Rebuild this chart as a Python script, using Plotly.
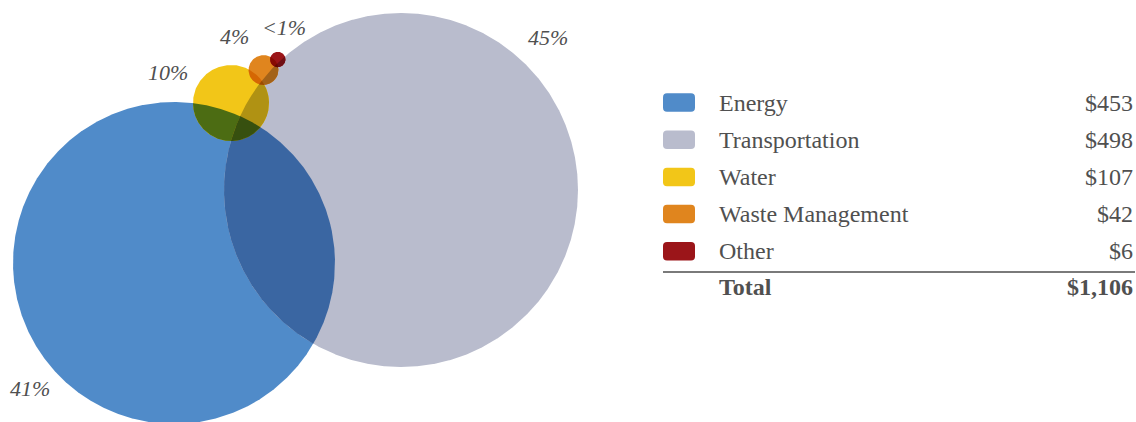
import math
from itertools import combinations
import plotly.graph_objects as go

categories = ["Energy", "Transportation", "Water", "Waste Management", "Other"]
values = [453, 498, 107, 42, 6]
value_labels = ["$453", "$498", "$107", "$42", "$6"]
pct_labels = ["41%", "45%", "10%", "4%", "<1%"]
total_label = "$1,106"
colors = ["#508BC9", "#B9BCCD", "#F2C618", "#E0851E", "#9B1519"]

# layout (pixel-like coordinates)
centers = [(174, 263), (401, 190), (231, 103), (263.5, 70), (277.8, 59.5)]
label_pos = [(30, 388), (548, 37), (168, 72), (234, 36), (284, 27)]
scale = 161.0 / 453
min_r = 7.7

W, H = 1136, 422
radii = [max(v * scale, min_r) for v in values]


def hex2rgb(h):
    h = h.lstrip("#")
    return [int(h[i:i + 2], 16) for i in (0, 2, 4)]


def multiply(idx):
    c = [255.0, 255.0, 255.0]
    for i in idx:
        rgb = hex2rgb(colors[i])
        c = [a * b / 255.0 for a, b in zip(c, rgb)]
    return "rgb(%d,%d,%d)" % tuple(round(v) for v in c)


def depth(px, py, idx):
    return min(radii[i] - math.hypot(px - centers[i][0], py - centers[i][1]) for i in idx)


def region(idx, n=2400):
    # find an interior point of the intersection of circles idx
    k = min(idx, key=lambda i: radii[i])
    cx, cy = centers[k]
    r = radii[k]
    best, bp = -1e9, None
    steps = 60
    for a in range(steps + 1):
        for b in range(steps + 1):
            px = cx - r + 2 * r * a / steps
            py = cy - r + 2 * r * b / steps
            d = depth(px, py, idx)
            if d > best:
                best, bp = d, (px, py)
    if best <= 0.3:
        return None
    px, py = bp
    xs, ys = [], []
    for j in range(n + 1):
        th = 2 * math.pi * j / n
        dx, dy = math.cos(th), math.sin(th)
        tmin = 1e9
        for i in idx:
            ox, oy = px - centers[i][0], py - centers[i][1]
            bb = ox * dx + oy * dy
            cc = ox * ox + oy * oy - radii[i] ** 2
            t = -bb + math.sqrt(bb * bb - cc)
            tmin = min(tmin, t)
        xs.append(px + tmin * dx)
        ys.append(py + tmin * dy)
    return xs, ys


fig = go.Figure()


def add_poly(xs, ys, col):
    fig.add_trace(go.Scatter(x=xs, y=ys, mode="lines", fill="toself", fillcolor=col,
                             line=dict(width=0, color=col), hoverinfo="skip", showlegend=False))


# base circles
for i in range(len(values)):
    cx, cy = centers[i]
    n = 1440
    xs = [cx + radii[i] * math.cos(2 * math.pi * j / n) for j in range(n + 1)]
    ys = [cy + radii[i] * math.sin(2 * math.pi * j / n) for j in range(n + 1)]
    add_poly(xs, ys, colors[i])

# overlaps, multiply-blended
for size in range(2, len(values) + 1):
    for idx in combinations(range(len(values)), size):
        reg = region(idx)
        if reg:
            add_poly(reg[0], reg[1], multiply(idx))

shapes = []
annotations = []
serif = "Liberation Serif, Times New Roman, serif"
txt = "#505050"
for (lx, ly), t in zip(label_pos, pct_labels):
    annotations.append(dict(x=lx, y=ly, xref="x", yref="y", text="<i>%s</i>" % t, showarrow=False,
                            font=dict(family=serif, size=22, color=txt), xanchor="center", yanchor="middle"))


def rounded(x0, y0, x1, y1, rr):
    return (f"M {x0+rr},{y0} L {x1-rr},{y0} Q {x1},{y0} {x1},{y0+rr} L {x1},{y1-rr} Q {x1},{y1} {x1-rr},{y1} "
            f"L {x0+rr},{y1} Q {x0},{y1} {x0},{y1-rr} L {x0},{y0+rr} Q {x0},{y0} {x0+rr},{y0} Z")


row0, dy = 102.5, 37.2
sw_x0, sw_x1, sw_h = 663, 695, 18.5
text_x, val_x = 716.5, 1135
fs = 24
for i, (cat, vl, c) in enumerate(zip(categories, value_labels, colors)):
    yc = row0 + i * dy
    shapes.append(dict(type="path", xref="x", yref="y", path=rounded(sw_x0, yc - sw_h / 2, sw_x1, yc + sw_h / 2, 4),
                       fillcolor=c, line=dict(width=0), layer="above"))
    annotations.append(dict(x=text_x, y=yc, xref="x", yref="y", text=cat, showarrow=False,
                            font=dict(family=serif, size=fs, color=txt), xanchor="left", yanchor="middle"))
    annotations.append(dict(x=val_x, y=yc, xref="x", yref="y", text=vl, showarrow=False,
                            font=dict(family=serif, size=fs, color=txt), xanchor="right", yanchor="middle"))

line_y = 272
shapes.append(dict(type="line", xref="x", yref="y", x0=663, x1=1135, y0=line_y, y1=line_y,
                   line=dict(color="#7a7a7a", width=2), layer="above"))
total_y = row0 + 5 * dy - 1.5
annotations.append(dict(x=text_x, y=total_y, xref="x", yref="y", text="<b>Total</b>", showarrow=False,
                        font=dict(family=serif, size=fs, color=txt), xanchor="left", yanchor="middle"))
annotations.append(dict(x=val_x, y=total_y, xref="x", yref="y", text="<b>%s</b>" % total_label, showarrow=False,
                        font=dict(family=serif, size=fs, color=txt), xanchor="right", yanchor="middle"))

fig.update_layout(
    width=W, height=H, margin=dict(l=0, r=0, t=0, b=0),
    paper_bgcolor="white", plot_bgcolor="white",
    xaxis=dict(range=[0, W], visible=False, fixedrange=True),
    yaxis=dict(range=[H, 0], visible=False, fixedrange=True),
    shapes=shapes, annotations=annotations, showlegend=False,
)

fig.write_html("out.html", config={"displayModeBar": False})
